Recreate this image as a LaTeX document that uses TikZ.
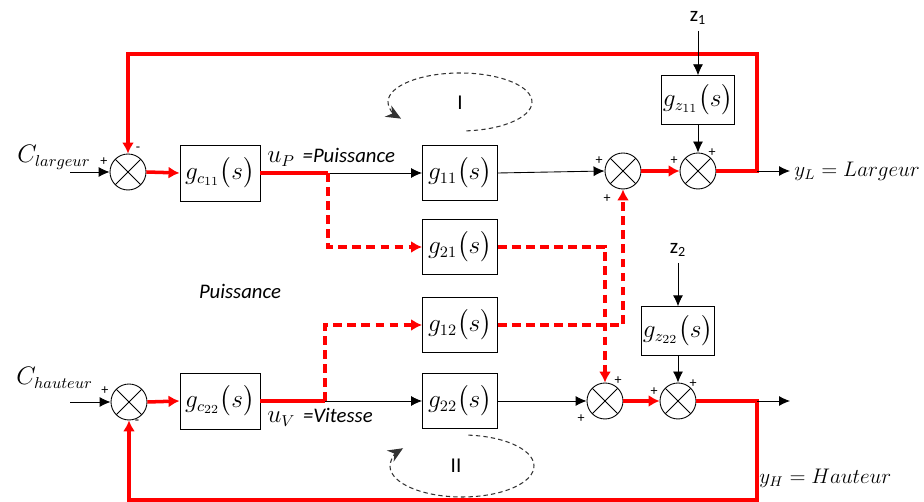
\documentclass[tikz,border=0pt]{standalone}
\usepackage{amsmath}
\usepackage{fontspec}
\newfontfamily\calib{Carlito}
\usetikzlibrary{arrows.meta,positioning}

\begin{document}
\begin{tikzpicture}[
  x=0.02cm, y=-0.02cm,
  font=\fontsize{13.5}{16}\selectfont,
  blk/.style={draw, minimum width=1.5cm, minimum height=1.1cm, inner sep=0pt, line width=0.5pt},
  blkc/.style={blk, minimum width=1.6cm, minimum height=1.12cm},
  blkz/.style={blk, minimum width=1.46cm, minimum height=0.97cm},
  sumj/.style={circle, draw, minimum size=0.72cm, inner sep=0pt, line width=0.5pt,
    path picture={\draw (path picture bounding box.north west) -- (path picture bounding box.south east)
      (path picture bounding box.north east) -- (path picture bounding box.south west);}},
  sig/.style={line width=0.5pt, -{Latex[length=2.2mm,width=2mm]}},
  redline/.style={red, line width=2pt},
  redarr/.style={redline, -{Latex[length=2.2mm,width=2.4mm]}},
  crossl/.style={redline, dash pattern=on 5pt off 3pt, -{Latex[length=2.2mm,width=2.4mm]}},
  pm/.style={font=\calib\footnotesize, inner sep=0pt},
  itl/.style={font=\calib\itshape\fontsize{11.8}{14}\selectfont, inner sep=0pt},
  outl/.style={font=\large, anchor=west, inner sep=0pt},
  loopl/.style={gray!40!black, line width=0.6pt, dash pattern=on 2.5pt off 1.8pt,
    -{Stealth[length=3mm,width=2.6mm]}},
]
\useasboundingbox (0,0) rectangle (924,502);
% loop I (top)
\node[blkc] (gc1) at (220,173) {$g_{c_{11}}\bigl(s\bigr)$};
\node[sumj] (s1) at (128,172) {};
\node[blk] (g11) at (460,173) {$g_{11}\bigl(s\bigr)$};
\node[blk] (g21) at (460,247) {$g_{21}\bigl(s\bigr)$};
\node[sumj] (s2) at (623,171) {};
\node[sumj] (s3) at (698,171) {};
\node[blkz] (gz1) at (698,100) {$g_{z_{11}}\bigl(s\bigr)$};
\node[font=\calib\large] (z1) at (698,18) {z\textsubscript{1}};
% loop II (bottom)
\node[blkc] (gc2) at (220,401) {$g_{c_{22}}\bigl(s\bigr)$};
\node[sumj] (s6) at (129,402) {};
\node[blk] (g12) at (460,325) {$g_{12}\bigl(s\bigr)$};
\node[blk] (g22) at (460,401) {$g_{22}\bigl(s\bigr)$};
\node[sumj] (s4) at (605,401) {};
\node[sumj] (s5) at (678,401) {};
\node[blkz] (gz2) at (678,331) {$g_{z_{22}}\bigl(s\bigr)$};
\node[font=\calib\large] (z2) at (678,250) {z\textsubscript{2}};
% labels
\node[anchor=base west, inner sep=0pt] (cl) at (17,163) {$C_{largeur}$};
\node[anchor=base west, inner sep=0pt] (ch) at (16,385) {$C_{hauteur}$};
\node[anchor=base west, inner sep=0pt] (uP) at (267,163) {$u_P$};
\node[itl, anchor=base west] (uPt) at ([xshift=4pt]uP.base east) {=Puissance};
\node[anchor=base west, inner sep=0pt] (uV) at (267,423) {$u_V$};
\node[itl, anchor=base west] (uVt) at ([xshift=4pt]uV.base east) {=Vitesse};
\node[itl] (pu) at (240,291) {Puissance};
\node[outl] (yL) at (794,171) {$y_L = Largeur$};
\node[outl] (yH) at (759,478) {$y_H = Hauteur$};
\coordinate (bp) at (328,173);
\coordinate (bv) at (325,401);
\coordinate (oL) at (757,171);
\coordinate (oH) at (757,401);
\coordinate (in1) at (70,172);
\coordinate (in2) at (70,402);
% signal lines
\draw[sig] (in1) -- (s1.west);
\draw[sig] (in2) -- (s6.west);
\draw[redarr] (s1.east) -- (gc1.west);
\draw[redarr] (s6.east) -- (gc2.west);
\draw[redline] (gc1.east) -- (bp);
\draw[redline] (gc2.east) -- (bv);
\draw[sig] (bp) -- (g11.west);
\draw[sig] (bv) -- (g22.west);
\draw[crossl] (bp) |- (g21.west);
\draw[crossl] (bv) |- (g12.west);
\draw[crossl] (g21.east) -| (s4.north);
\draw[crossl] (g12.east) -| (s2.south);
\draw[sig] (g11.east) -- (s2.west);
\draw[sig] (g22.east) -- (s4.west);
\draw[redarr] (s2.east) -- (s3.west);
\draw[redarr] (s4.east) -- (s5.west);
% feedback
\draw[redarr] (s3.east) -- (oL) -- (757,54) -| (s1.north);
\draw[redarr] (s5.east) -- (oH) -- (757,500) -| (s6.south);
\draw[sig] (oL) -- (790,171);
\draw[sig] (oH) -- (790,401);
\draw[sig] (z1) -- (gz1.north);
\draw[sig] (gz1.south) -- (s3.north);
\draw[sig] (z2) -- (gz2.north);
\draw[sig] (gz2.south) -- (s5.north);
% signs
\node[pm] at (104,162) {+};
\node[pm] at (138,149) {-};
\node[pm] at (105,391) {+};
\node[pm] at (137,422) {-};
\node[pm] at (599,161) {+};
\node[pm] at (607,199) {+};
\node[pm] at (674,161) {+};
\node[pm] at (712,153) {+};
\node[pm] at (618,381) {+};
\node[pm] at (581,419) {+};
\node[pm] at (654,392) {+};
\node[pm] at (693,384) {+};
% interaction loops
\coordinate (lI) at (460,102);
\coordinate (lII) at (462,466);
\draw[loopl] ([shift={(-85:1.44cm and 0.58cm)}]lI) arc[start angle=-85, end angle=215, x radius=1.44cm, y radius=0.58cm];
\draw[loopl] ([shift={(85:1.44cm and 0.62cm)}]lII) arc[start angle=85, end angle=-215, x radius=1.44cm, y radius=0.62cm];
\node[font=\calib\large] (tI) at (460,103) {I};
\node[font=\calib\large] (tII) at (456,466) {II};
\end{tikzpicture}
\end{document}
